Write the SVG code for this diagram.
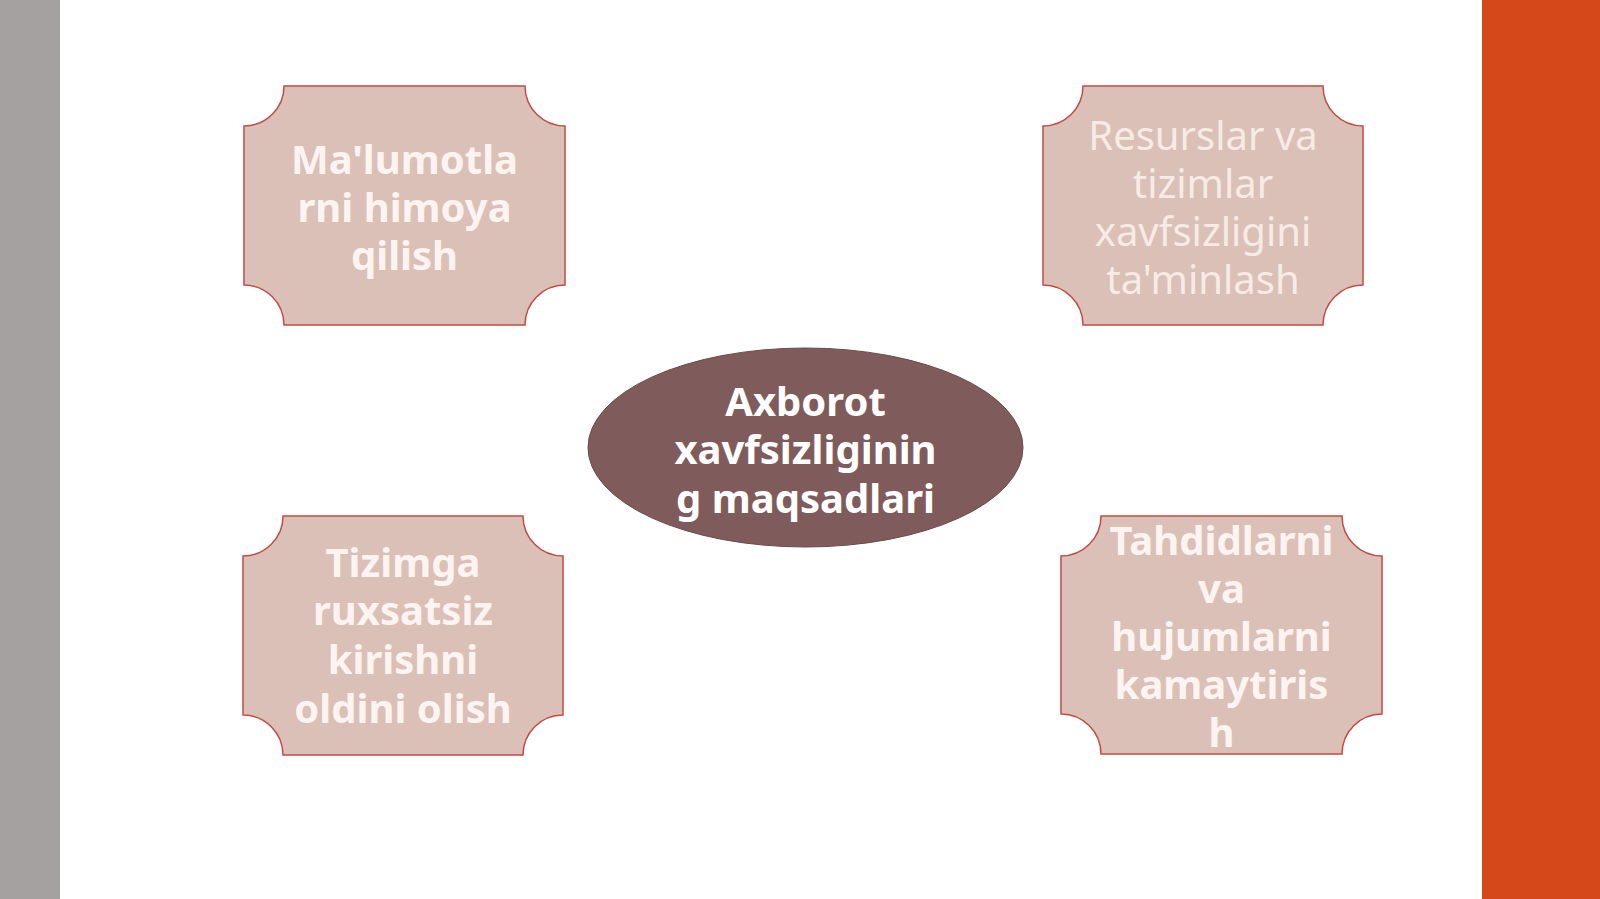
<svg xmlns="http://www.w3.org/2000/svg" width="1600" height="899" viewBox="0 0 1600 899">
<style>
.plaque{fill:#dbc0b7;stroke:#c24b45;stroke-width:1.5}
.t{font-family:"Noto Sans","Open Sans","DejaVu Sans",sans-serif;font-size:40px;text-anchor:middle}
.b{font-weight:bold;fill:#fdf4f1}
.r{font-weight:normal;fill:#f7ebe6}
.c{font-family:"Noto Sans","Open Sans","DejaVu Sans",sans-serif;font-size:40px;font-weight:bold;fill:#ffffff;text-anchor:middle}
</style>
<rect x="0" y="0" width="1600" height="899" fill="#ffffff"/>
<rect x="0" y="0" width="60" height="899" fill="#a6a1a1"/>
<rect x="1482" y="0" width="118" height="899" fill="#d4481a"/>
<g id="connectors"/>
<g id="node-center">
<ellipse cx="805.5" cy="447.5" rx="217.5" ry="99.5" fill="#7f5c5b" stroke="#6a4a49" stroke-width="1"/>
<text class="c" x="805.5" y="416">Axborot</text>
<text class="c" x="805.5" y="464">xavfsizliginin</text>
<text class="c" x="805.5" y="513">g maqsadlari</text>
</g>
<g id="node-tl">
<path class="plaque" d="M284,86 H525 A40,40 0 0 0 565,126 V285 A40,40 0 0 0 525,325 H284 A40,40 0 0 0 244,285 V126 A40,40 0 0 0 284,86 Z"/>
<text class="t b" x="404.5" y="174">Ma'lumotla</text>
<text class="t b" x="404.5" y="222">rni himoya</text>
<text class="t b" x="404.5" y="270">qilish</text>
</g>
<g id="node-tr">
<path class="plaque" d="M1083,86 H1323 A40,40 0 0 0 1363,126 V285 A40,40 0 0 0 1323,325 H1083 A40,40 0 0 0 1043,285 V126 A40,40 0 0 0 1083,86 Z"/>
<text class="t r" x="1203" y="150">Resurslar va</text>
<text class="t r" x="1203" y="198">tizimlar</text>
<text class="t r" x="1203" y="246">xavfsizligini</text>
<text class="t r" x="1203" y="294">ta'minlash</text>
</g>
<g id="node-bl">
<path class="plaque" d="M283,516 H523 A40,40 0 0 0 563,556 V715 A40,40 0 0 0 523,755 H283 A40,40 0 0 0 243,715 V556 A40,40 0 0 0 283,516 Z"/>
<text class="t b" x="403" y="577">Tizimga</text>
<text class="t b" x="403" y="625">ruxsatsiz</text>
<text class="t b" x="403" y="674">kirishni</text>
<text class="t b" x="403" y="723">oldini olish</text>
</g>
<g id="node-br">
<path class="plaque" d="M1101,516 H1342 A40,40 0 0 0 1382,556 V714 A40,40 0 0 0 1342,754 H1101 A40,40 0 0 0 1061,714 V556 A40,40 0 0 0 1101,516 Z"/>
<text class="t b" x="1221.5" y="555">Tahdidlarni</text>
<text class="t b" x="1221.5" y="603">va</text>
<text class="t b" x="1221.5" y="651">hujumlarni</text>
<text class="t b" x="1221.5" y="699">kamaytiris</text>
<text class="t b" x="1221.5" y="747">h</text>
</g>
</svg>
